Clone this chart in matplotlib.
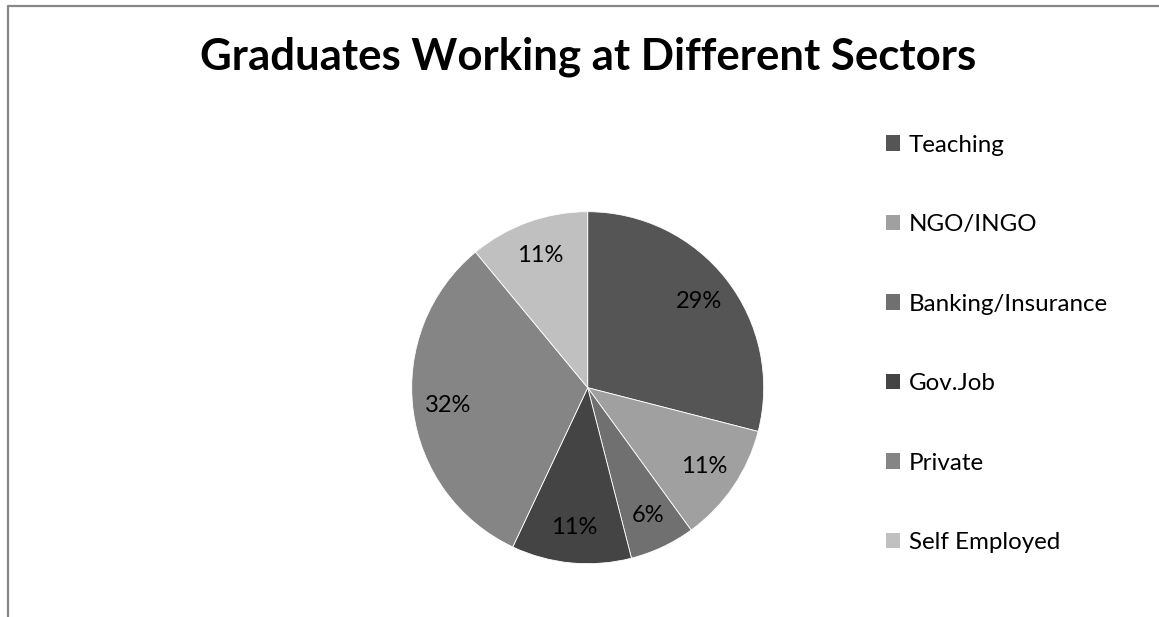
import matplotlib
matplotlib.use("Agg")
import matplotlib.pyplot as plt
from matplotlib.lines import Line2D
from matplotlib.patches import Patch

plt.rcParams['font.family'] = ['Lato', 'DejaVu Sans']

categories = ["Teaching", "NGO/INGO", "Banking/Insurance", "Gov.Job", "Private", "Self Employed"]
values = [29, 11, 6, 11, 32, 11]
colors = ["#555555", "#a0a0a0", "#707070", "#444444", "#858585", "#c0c0c0"]
title = "Graduates Working at Different Sectors"

W, H = 1159, 617
fig = plt.figure(figsize=(W / 100, H / 100), dpi=100)

cx, cy, r = 587.7, 387.7, 176
ax = fig.add_axes([(cx - r) / W, (H - cy - r) / H, 2 * r / W, 2 * r / H])
wedges, texts, autotexts = ax.pie(
    values, colors=colors, startangle=90, counterclock=False,
    autopct=lambda p: f"{p:.0f}%", pctdistance=0.8,
    wedgeprops=dict(edgecolor="white", linewidth=0.6),
    textprops=dict(fontsize=17, color="black"))
ax.set_xlim(-1, 1)
ax.set_ylim(-1, 1)
ax.set_aspect("equal")
ax.axis("off")

fig.text(588 / W, 1 - 57 / H, title, ha="center", va="center",
         fontsize=31.5, fontweight="bold")

handles = [Patch(facecolor=c, edgecolor="none") for c in colors]
fig.legend(handles, categories, loc="upper left",
           bbox_to_anchor=(876 / W, 1 - 125 / H), frameon=False,
           fontsize=17.4, handlelength=0.6, handleheight=0.6,
           handletextpad=0.35, labelspacing=2.42, borderaxespad=0)

border = Line2D([7.5 / W, 7.5 / W, 1.0], [0.0, 1 - 5.5 / H, 1 - 5.5 / H],
                transform=fig.transFigure, color="#878787", linewidth=1.6)
fig.add_artist(border)

fig.savefig("out.png", dpi=100)
